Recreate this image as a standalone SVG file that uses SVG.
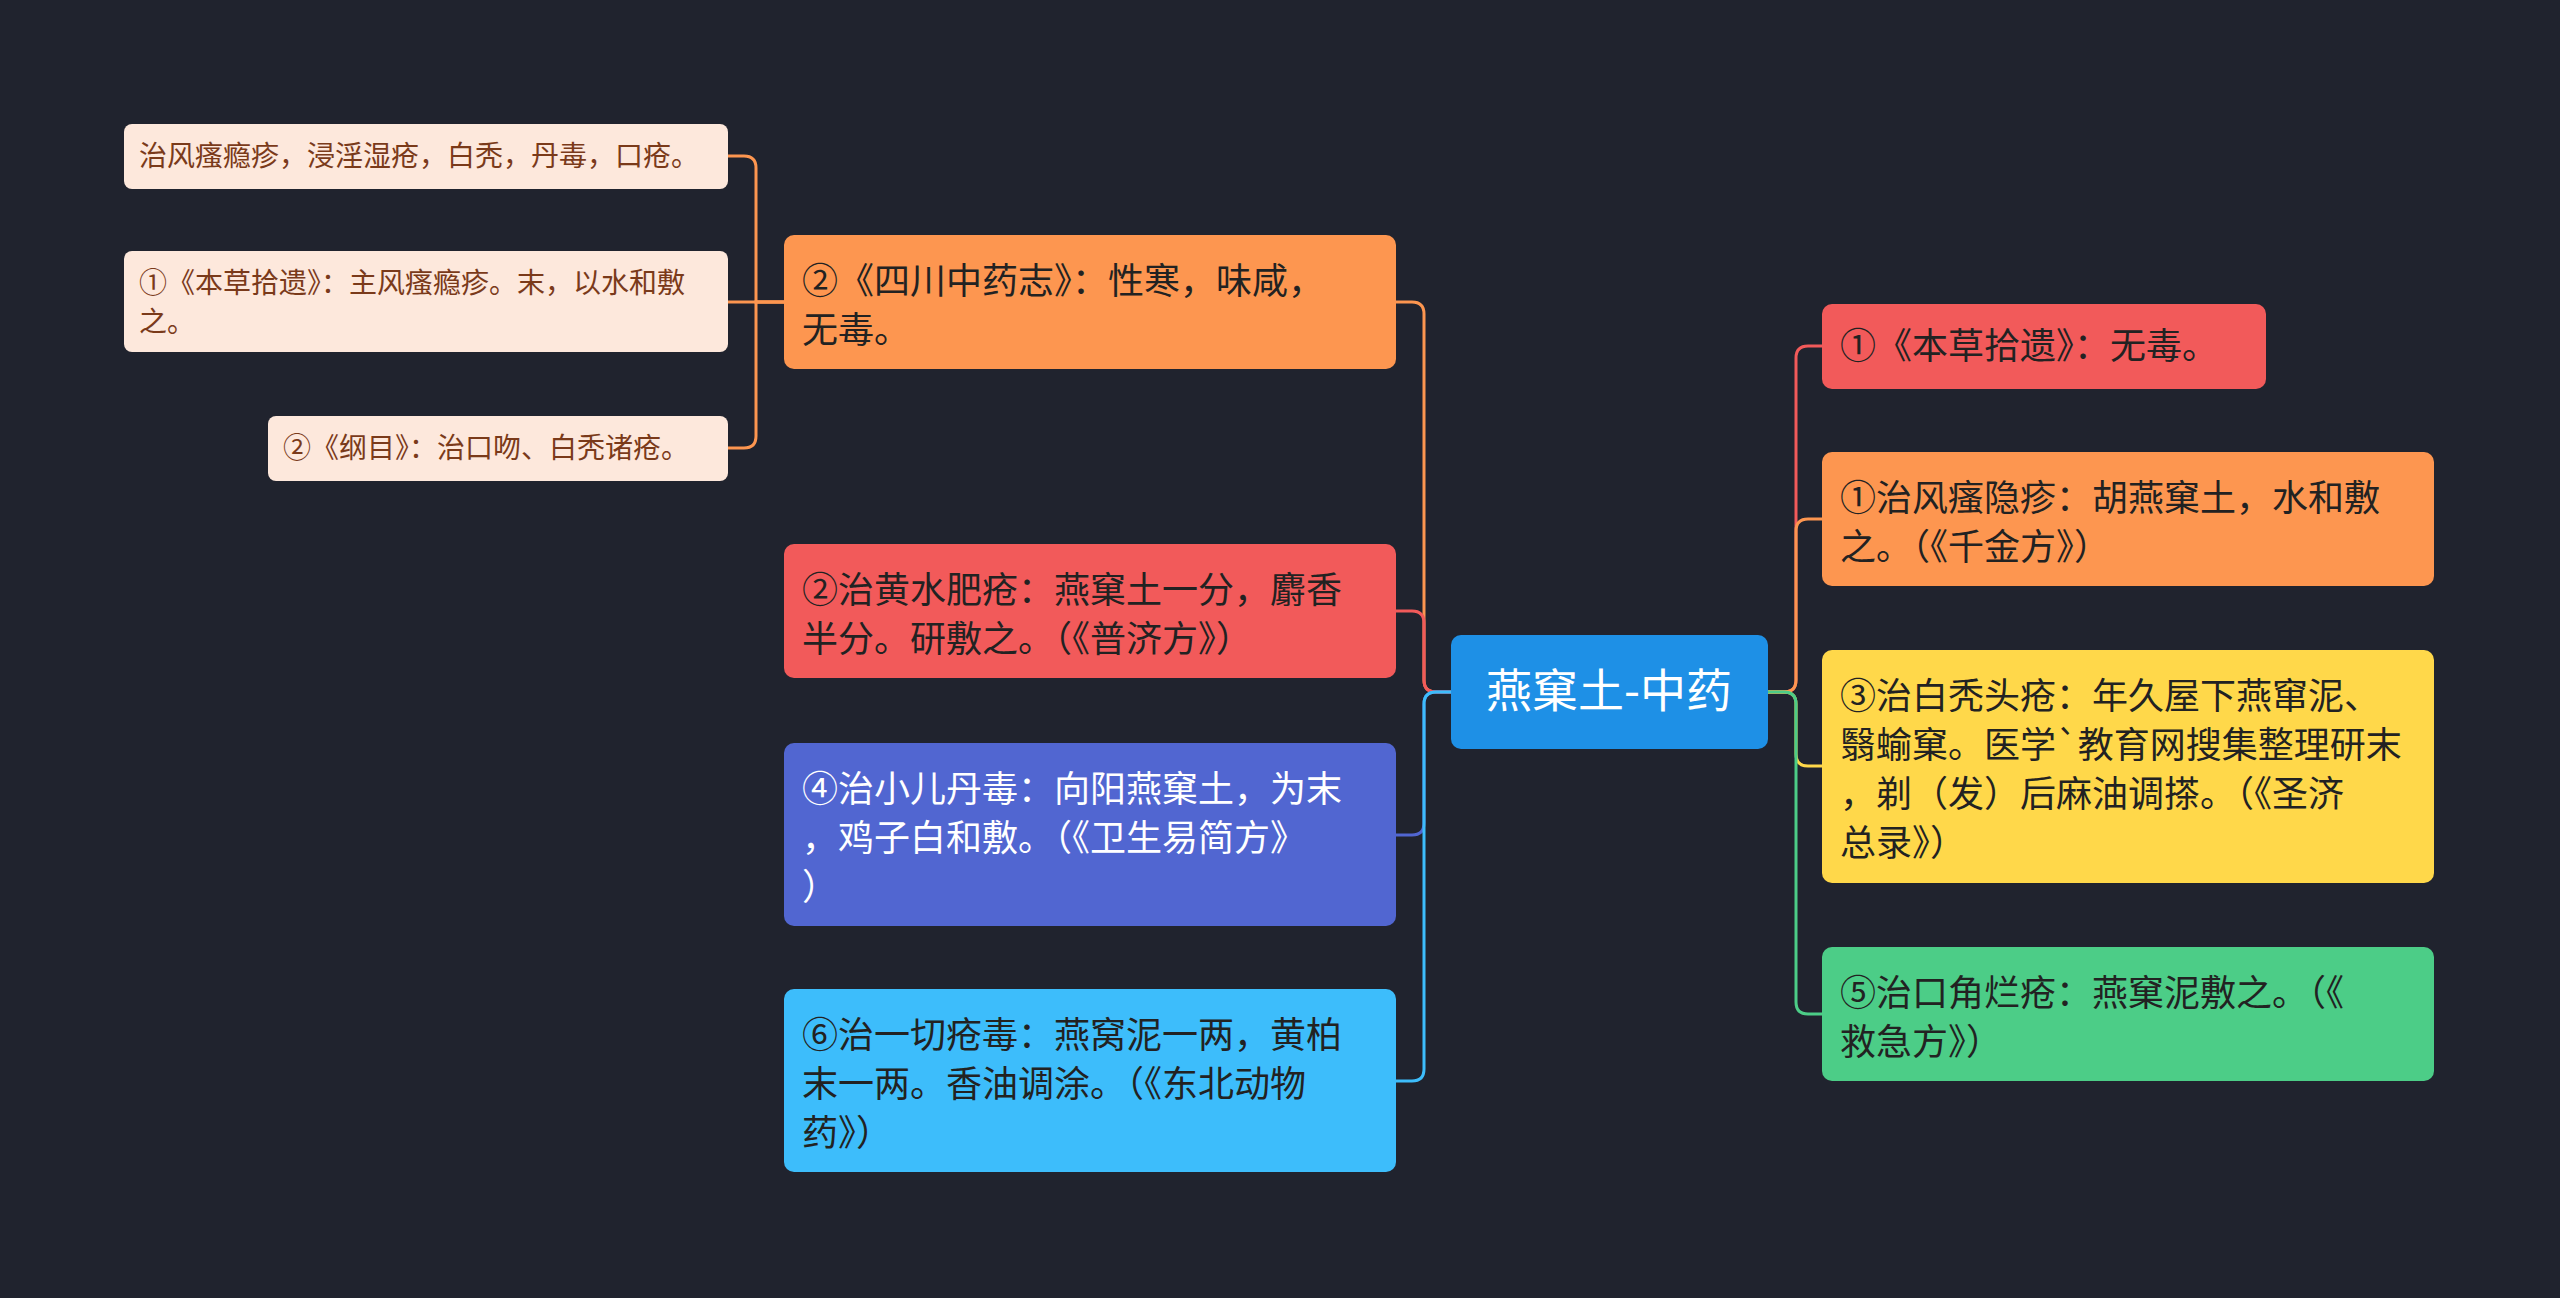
<svg xmlns="http://www.w3.org/2000/svg" width="2560" height="1298" viewBox="0 0 2560 1298">
<style>
text{font-family:"Noto Sans CJK SC","Noto Sans",sans-serif}
.t{font-size:36px;fill:#222}
.w{fill:#fff}
.s{font-size:28px;fill:#7a3a1a}
.c{fill:none;stroke-width:3}
</style>
<rect width="2560" height="1298" fill="#20232e"/>
<g id="connectors">
<path class="c" stroke="#fd9650" d="M1451 692 H1436 Q1424 692 1424 680 V314 Q1424 302 1412 302 H1396"/>
<path class="c" stroke="#f25a5a" d="M1451 692 H1436 Q1424 692 1424 680 V623 Q1424 611 1412 611 H1396"/>
<path class="c" stroke="#5166d1" d="M1451 692 H1436 Q1424 692 1424 704 V823 Q1424 835 1412 835 H1396"/>
<path class="c" stroke="#3dbdfb" d="M1451 692 H1436 Q1424 692 1424 704 V1069 Q1424 1081 1412 1081 H1396"/>
<path class="c" stroke="#f25a5a" d="M1768 692 H1784 Q1796 692 1796 680 V358 Q1796 346 1808 346 H1822"/>
<path class="c" stroke="#fd9650" d="M1768 692 H1784 Q1796 692 1796 680 V531 Q1796 519 1808 519 H1822"/>
<path class="c" stroke="#ffd84a" d="M1768 692 H1784 Q1796 692 1796 704 V754 Q1796 766 1808 766 H1822"/>
<path class="c" stroke="#4ccd87" d="M1768 692 H1784 Q1796 692 1796 704 V1002 Q1796 1014 1808 1014 H1822"/>
<path class="c" stroke="#fd9650" d="M784 302 H756 V168 Q756 156 744 156 H728"/>
<path class="c" stroke="#fd9650" d="M784 302 H728"/>
<path class="c" stroke="#fd9650" d="M784 302 H756 V436 Q756 448 744 448 H728"/>
</g>
<g id="center"><rect x="1451" y="635" width="317" height="114" rx="10" fill="#1e90e6"/><text x="1609" y="707" text-anchor="middle" font-size="46" class="w">燕窠土-中药</text></g>
<g id="L1"><rect x="784" y="235" width="612" height="134" rx="10" fill="#fd9650"/><text class="t" x="802" y="294">②《四川中药志》：性寒，味咸，</text><text class="t" x="802" y="343">无毒。</text></g>
<g id="L2"><rect x="784" y="544" width="612" height="134" rx="10" fill="#f25a5a"/><text class="t" x="802" y="603">②治黄水肥疮：燕窠土一分，麝香</text><text class="t" x="802" y="652">半分。研敷之。（《普济方》）</text></g>
<g id="L3"><rect x="784" y="743" width="612" height="183" rx="10" fill="#5166d1"/><text class="t w" x="802" y="802">④治小儿丹毒：向阳燕窠土，为末</text><text class="t w" x="802" y="851">，鸡子白和敷。（《卫生易简方》</text><text class="t w" x="802" y="900">）</text></g>
<g id="L4"><rect x="784" y="989" width="612" height="183" rx="10" fill="#3dbdfb"/><text class="t" x="802" y="1048">⑥治一切疮毒：燕窝泥一两，黄柏</text><text class="t" x="802" y="1097">末一两。香油调涂。（《东北动物</text><text class="t" x="802" y="1146">药》）</text></g>
<g id="R1"><rect x="1822" y="304" width="444" height="85" rx="10" fill="#f25a5a"/><text class="t" x="1840" y="359">①《本草拾遗》：无毒。</text></g>
<g id="R2"><rect x="1822" y="452" width="612" height="134" rx="10" fill="#fd9650"/><text class="t" x="1840" y="511">①治风瘙隐疹：胡燕窠土，水和敷</text><text class="t" x="1840" y="560">之。（《千金方》）</text></g>
<g id="R3"><rect x="1822" y="650" width="612" height="233" rx="10" fill="#ffd84a"/><text class="t" x="1840" y="709">③治白秃头疮：年久屋下燕窜泥、</text><text class="t" x="1840" y="758">翳蝓窠。医学`教育网搜集整理研末</text><text class="t" x="1840" y="807">，剃（发）后麻油调搽。（《圣济</text><text class="t" x="1840" y="856">总录》）</text></g>
<g id="R4"><rect x="1822" y="947" width="612" height="134" rx="10" fill="#4ccd87"/><text class="t" x="1840" y="1006">⑤治口角烂疮：燕窠泥敷之。（《</text><text class="t" x="1840" y="1055">救急方》）</text></g>
<g id="a"><rect x="124" y="124" width="604" height="65" rx="8" fill="#fde8dc"/><text class="s" x="139" y="166">治风瘙瘾疹，浸淫湿疮，白秃，丹毒，口疮。</text></g>
<g id="b"><rect x="124" y="251" width="604" height="101" rx="8" fill="#fde8dc"/><text class="s" x="139" y="293">①《本草拾遗》：主风瘙瘾疹。末，以水和敷</text><text class="s" x="139" y="332">之。</text></g>
<g id="c"><rect x="268" y="416" width="460" height="65" rx="8" fill="#fde8dc"/><text class="s" x="283" y="458">②《纲目》：治口吻、白秃诸疮。</text></g>
</svg>
